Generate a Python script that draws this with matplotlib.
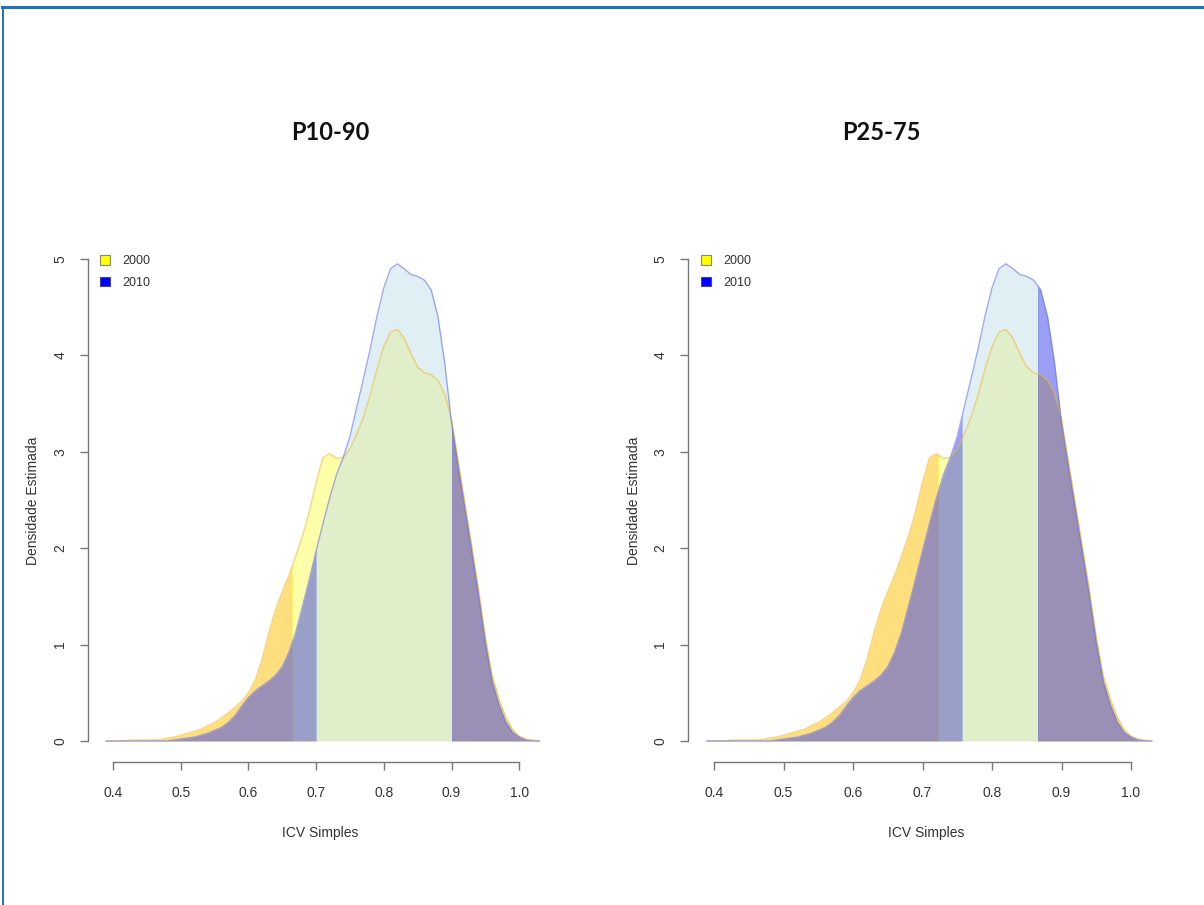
import numpy as np
import matplotlib
matplotlib.use('Agg')
import matplotlib.pyplot as plt
from matplotlib.patches import Patch, Rectangle
from matplotlib.lines import Line2D

# --------------------------
# Data
# --------------------------
icv = [0.39, 0.40, 0.41, 0.42, 0.43, 0.44, 0.45, 0.46, 0.47, 0.48,
       0.49, 0.50, 0.51, 0.52, 0.53, 0.54, 0.55, 0.56, 0.57, 0.58,
       0.59, 0.60, 0.61, 0.62, 0.63, 0.64, 0.65, 0.66, 0.67, 0.68,
       0.69, 0.70, 0.71, 0.72, 0.73, 0.74, 0.75, 0.76, 0.77, 0.78,
       0.79, 0.80, 0.81, 0.82, 0.83, 0.84, 0.85, 0.86, 0.87, 0.88,
       0.89, 0.90, 0.91, 0.92, 0.93, 0.94, 0.95, 0.96, 0.97, 0.98,
       0.99, 1.00, 1.01, 1.02, 1.03]

dens_2000 = [0.00, 0.00, 0.00, 0.005, 0.01, 0.01, 0.01, 0.01, 0.015, 0.03,
             0.04, 0.06, 0.08, 0.10, 0.12, 0.16, 0.19, 0.24, 0.29, 0.35,
             0.41, 0.50, 0.63, 0.84, 1.12, 1.36, 1.55, 1.72, 1.92, 2.13,
             2.38, 2.68, 2.94, 2.98, 2.93, 2.94, 3.03, 3.18, 3.36, 3.59,
             3.86, 4.09, 4.24, 4.27, 4.18, 4.02, 3.88, 3.82, 3.80, 3.74,
             3.60, 3.34, 2.90, 2.46, 2.02, 1.57, 1.08, 0.68, 0.44, 0.25,
             0.12, 0.05, 0.02, 0.01, 0.00]

dens_2010 = [0.00, 0.00, 0.00, 0.00, 0.00, 0.00, 0.00, 0.00, 0.00, 0.00,
             0.01, 0.02, 0.03, 0.04, 0.06, 0.08, 0.11, 0.14, 0.19, 0.26,
             0.36, 0.45, 0.52, 0.57, 0.62, 0.68, 0.77, 0.92, 1.13, 1.40,
             1.68, 1.97, 2.25, 2.52, 2.76, 2.94, 3.16, 3.46, 3.76, 4.07,
             4.41, 4.70, 4.90, 4.95, 4.90, 4.84, 4.82, 4.78, 4.68, 4.40,
             3.92, 3.30, 2.84, 2.40, 1.96, 1.51, 1.02, 0.62, 0.38, 0.20,
             0.09, 0.04, 0.01, 0.00, 0.00]

titles = ['P10-90', 'P25-75']
p_low_2000 = [0.664, 0.722]
p_high_2000 = [0.900, 0.866]
p_low_2010 = [0.700, 0.757]
p_high_2010 = [0.900, 0.866]

years = ['2000', '2010']
x_ticks = [0.4, 0.5, 0.6, 0.7, 0.8, 0.9, 1.0]
y_ticks = [0, 1, 2, 3, 4, 5]

# --------------------------
# Layout (pixels of a 1204 x 905 canvas)
# --------------------------
W, H = 1204, 905
panels = [
    # left, right, x of 0.4, px per unit, title x, xlabel x, ylabel x, legend x
    dict(L=88, R=560, x0=113, s=677, tx=330, xlx=320, ylx=33, lgx=100),
    dict(L=688, R=1180, x0=714, s=695, tx=881, xlx=926, ylx=634, lgx=701),
]
ax_top, ax_bot, y0_px, y_s = 240, 762, 741, 96.4

c2000_tail, c2000_mid = '#FFC829', '#FFFF55'
c2010_tail, c2010_mid = '#3741EB', '#C3E1EB'
txt_col = '#333333'
axis_col = '#777777'

fig = plt.figure(figsize=(W / 100, H / 100), dpi=100)


def shaded(ax, dens, lo, hi, tail_col, tail_a, mid_col, mid_a):
    spans = [(-1, lo, tail_col, tail_a), (lo, hi, mid_col, mid_a), (hi, 2, tail_col, tail_a)]
    for a, b, col, alpha in spans:
        poly = ax.fill_between(icv, 0, dens, color=col, alpha=alpha, lw=0)
        clip = Rectangle((a, -1), b - a, 10, transform=ax.transData)
        poly.set_clip_path(clip)


for i, p in enumerate(panels):
    ax = fig.add_axes([p['L'] / W, 1 - ax_bot / H, (p['R'] - p['L']) / W, (ax_bot - ax_top) / H])
    ax.set_xlim(0.4 - (p['x0'] - p['L']) / p['s'], 0.4 + (p['R'] - p['x0']) / p['s'])
    ax.set_ylim(-(ax_bot - y0_px) / y_s, (y0_px - ax_top) / y_s)

    shaded(ax, dens_2000, p_low_2000[i], p_high_2000[i], c2000_tail, 0.6, c2000_mid, 0.5)
    shaded(ax, dens_2010, p_low_2010[i], p_high_2010[i], c2010_tail, 0.5, c2010_mid, 0.5)
    ax.plot(icv, dens_2000, color='#F0B830', lw=1.0, alpha=0.6, solid_joinstyle='round')
    ax.plot(icv, dens_2010, color='#6670F0', lw=1.0, alpha=0.6, solid_joinstyle='round')

    for side in ['top', 'right']:
        ax.spines[side].set_visible(False)
    ax.spines['left'].set_bounds(0, 5)
    ax.spines['bottom'].set_bounds(0.4, 1.0)
    for side in ['left', 'bottom']:
        ax.spines[side].set_color(axis_col)
        ax.spines[side].set_linewidth(1.0)

    ax.set_xticks(x_ticks)
    ax.set_xticklabels([f'{t:.1f}' for t in x_ticks])
    ax.set_yticks(y_ticks)
    ax.set_yticklabels([str(t) for t in y_ticks])
    ax.tick_params(axis='both', length=6, width=1.0, color=axis_col,
                   labelsize=10, labelcolor=txt_col)
    ax.tick_params(axis='x', pad=11)
    ax.tick_params(axis='y', pad=9, labelrotation=90)
    for lbl in ax.get_yticklabels():
        lbl.set_va('center')
    for lbl in ax.get_xticklabels() + ax.get_yticklabels():
        lbl.set_family('Liberation Sans')

    fig.text(p['tx'] / W, 1 - 132 / H, titles[i], ha='center', va='center',
             fontsize=17, fontweight='bold', family='Lato', color='#111111')
    fig.text(p['xlx'] / W, 1 - 833 / H, 'ICV Simples', ha='center', va='center',
             fontsize=10, family='Liberation Sans', color=txt_col)
    fig.text(p['ylx'] / W, 1 - 501 / H, 'Densidade Estimada', ha='center', va='center',
             rotation=90, fontsize=10, family='Liberation Sans', color=txt_col)

    handles = [Patch(facecolor='#FFFF00', edgecolor='#888866', lw=0.8),
               Patch(facecolor='#0000FF', edgecolor='#444488', lw=0.8)]
    leg = ax.legend(handles, years, loc='upper left', bbox_to_anchor=(p['lgx'] / W, 1 - 255 / H),
                    bbox_transform=fig.transFigure, frameon=False, fontsize=9,
                    handlelength=0.8, handleheight=0.8, handletextpad=1.0,
                    labelspacing=0.75, borderpad=0, borderaxespad=0)
    for t in leg.get_texts():
        t.set_color(txt_col)
        t.set_family('Liberation Sans')

# blue frame on the top and left edges
fig.add_artist(Line2D([2 / W, 1], [1 - 7 / H, 1 - 7 / H], color='#1F6FBF', lw=2.2))
fig.add_artist(Line2D([2.5 / W, 2.5 / W], [0, 1 - 7 / H], color='#1F6FBF', lw=1.4))

plt.savefig('out.png', dpi=100)
